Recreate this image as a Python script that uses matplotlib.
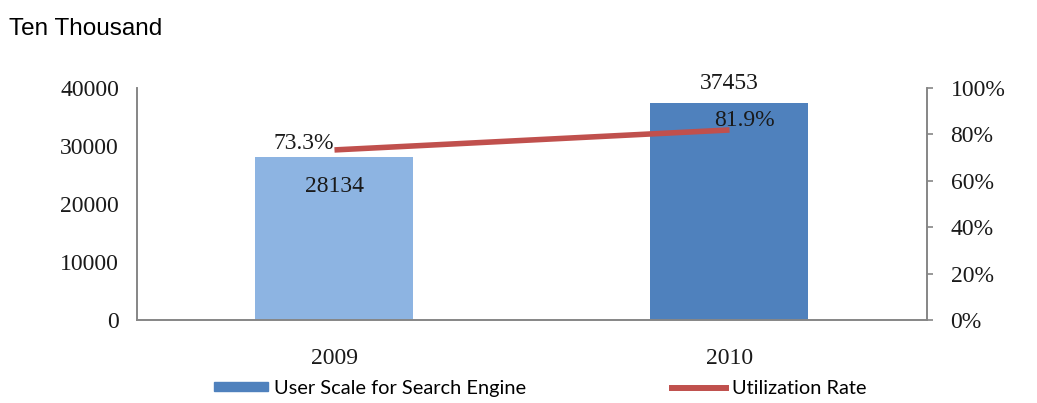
import matplotlib.pyplot as plt
from matplotlib.patches import Patch
from matplotlib.lines import Line2D

years = ["2009", "2010"]
users = [28134, 37453]          # ten thousand
rate = [73.3, 81.9]             # %
bar_colors = ["#8DB4E2", "#4F81BD"]
line_color = "#C0504D"
axis_gray = "#868686"

SERIF = ["Liberation Serif", "DejaVu Serif"]
FS = 17

fig = plt.figure(figsize=(10.37, 4.03), dpi=100)
ax = fig.add_axes([0.1321, 0.2060, 0.7618, 0.5757])
ax2 = ax.twinx()

x = [0, 1]
ax.bar(x, users, width=0.4, color=bar_colors, zorder=2)
ax.set_xlim(-0.5, 1.5)
ax.set_ylim(0, 40000)
ax.set_yticks([0, 10000, 20000, 30000, 40000])
ax.set_xticks(x)
ax.set_xticklabels(years)

ax2.plot(x, rate, color=line_color, lw=4, solid_capstyle="butt", zorder=3)
ax2.set_ylim(0, 100)
ax2.set_yticks([0, 20, 40, 60, 80, 100])
ax2.set_yticklabels([f"{v}%" for v in range(0, 101, 20)])

for a in (ax, ax2):
    a.spines["top"].set_visible(False)
    for s in ("left", "right", "bottom"):
        a.spines[s].set_color(axis_gray)
        a.spines[s].set_linewidth(1.2)
    a.patch.set_visible(False)
    for lab in a.get_yticklabels() + a.get_xticklabels():
        lab.set_family(SERIF)
        lab.set_fontsize(FS)
        lab.set_color("#1a1a1a")

ax.tick_params(axis="y", length=0, pad=13)
ax.tick_params(axis="x", length=0, pad=20)
ax2.tick_params(axis="y", length=4, color=axis_gray, width=1.2, pad=13)

# data labels
ax.annotate(f"{users[0]}", (x[0], users[0]), xytext=(0, -14), textcoords="offset points",
            ha="center", va="top", family=SERIF, fontsize=FS, color="#1a1a1a")
ax.annotate(f"{users[1]}", (x[1], users[1]), xytext=(0, 6), textcoords="offset points",
            ha="center", va="bottom", family=SERIF, fontsize=FS, color="#1a1a1a")
ax2.annotate(f"{rate[0]}%", (x[0], rate[0]), xytext=(0, -3), textcoords="offset points",
             ha="right", va="bottom", family=SERIF, fontsize=FS, color="#1a1a1a")
ax2.annotate(f"{rate[1]}%", (x[1], rate[1]), xytext=(11, -1), textcoords="offset points",
             ha="center", va="bottom", family=SERIF, fontsize=FS, color="#1a1a1a")

fig.text(0.0087, 0.9, "Ten Thousand", ha="left", va="bottom",
         family=["Liberation Sans", "DejaVu Sans"], fontsize=17.5)

handles = [Patch(color=bar_colors[1]), Line2D([0], [0], color=line_color, lw=4.3)]
fig.legend(handles, ["User Scale for Search Engine", "Utilization Rate"],
           loc="center", bbox_to_anchor=(0.5207, 0.037), ncol=2, frameon=False,
           prop={"family": ["Lato", "DejaVu Sans"], "size": 14.4},
           handlelength=2.7, handleheight=0.35, handletextpad=0.3, columnspacing=7.3)

fig.savefig("out.png", dpi=100)
